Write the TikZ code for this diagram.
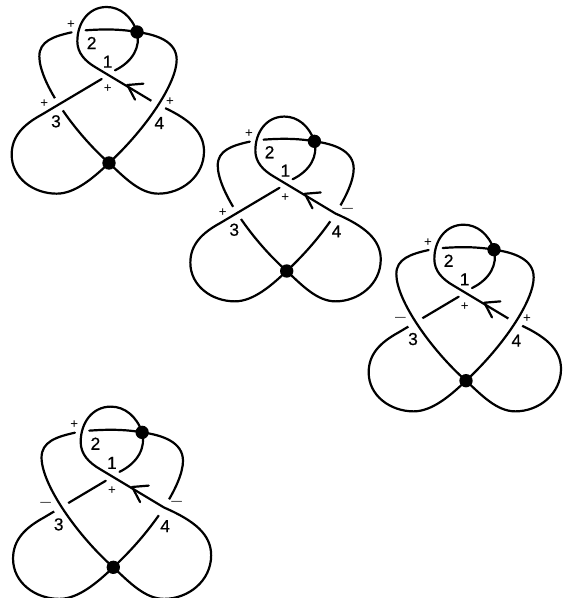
\documentclass[tikz,border=0pt]{standalone}
\usepackage{fontspec}
\setmainfont{Liberation Sans}
\newfontfamily\digitfont[FakeBold=0.5]{Liberation Sans}
\tikzset{
  strand/.style={draw=black,line width=1.65pt,line cap=round,line join=round},
  gapstrip/.style={draw=white,line cap=butt},
  vertexdot/.style={circle,fill=black,inner sep=0pt,minimum size=10pt},
  digit/.style={font=\digitfont\fontsize{13}{13}\selectfont,text=black,inner sep=0pt},
  sign/.style={font=\fontsize{10}{10}\selectfont,text=black,inner sep=0pt},
  dashsign/.style={font=\fontsize{8}{8}\selectfont,text=black,inner sep=0pt}
}
\newcommand{\knotdiagram}[6]{%
\begin{scope}[shift={(#1*0.75pt,-#2*0.75pt)},name prefix=#6-]
\begin{scope}[x=#3*0.25pt,y=-#3*0.25pt,shift={(-327,-490)}]
  \node[vertexdot] (V) at (327,490) {};
  \node[vertexdot] (T) at (411,97) {};
  % circle back from top vertex to crossing 1
  \draw[strand] (T.center) .. controls (422,140) and (400,185) .. (345,212);
  % horizontal from top vertex to crossing 2
  \draw[strand] (T.center) .. controls (360,88) and (310,88) .. (257,92);
  % strands through crossing 4
  \def\strandB{\draw[strand] (T.center) .. controls (395,50) and (360,22) .. (320,22)
     .. controls (265,22) and (232,70) .. (232,125)
     .. controls (232,160) and (255,185) .. (290,205) -- (475,316)
     .. controls (565,355) and (612,395) .. (612,455)
     .. controls (612,530) and (545,582) .. (475,582)
     .. controls (420,582) and (375,535) .. (V.center);}
  \def\strandC{\draw[strand] (T.center) .. controls (470,105) and (530,125) .. (530,180)
     .. controls (530,250) and (440,385) .. (V.center);}
  \ifnum#5=1
    \strandB
    \draw[gapstrip,line width=11.5pt] (490,288) -- (460,340);
    \strandC
  \else
    \strandC
    \draw[gapstrip,line width=14pt] (445,297) -- (505,334);
    \strandB
  \fi
  % strands through crossing 3
  \def\strandA{\draw[strand] (305,238) -- (125,345)
     .. controls (70,375) and (35,410) .. (35,465)
     .. controls (35,535) and (100,582) .. (170,582)
     .. controls (225,582) and (280,535) .. (V.center);}
  \def\strandD{\draw[strand] (215,98) .. controls (160,110) and (118,125) .. (118,170)
     .. controls (118,250) and (225,400) .. (V.center);}
  \ifnum#4=1
    \strandD
    \draw[gapstrip,line width=10.7pt] (160,324) -- (195,303);
    \strandA
  \else
    \strandA
    \draw[gapstrip,line width=12pt] (158,291) -- (192,339);
    \strandD
  \fi
  % arrowhead on the loop
  \coordinate (tip) at (382,256);
  \coordinate (barbA) at (430,252);
  \coordinate (barbB) at (405,300);
  \draw[strand] (barbA) -- (tip) -- (barbB);
  % labels
  \node[digit] (n1) at (323,186) {1};
  \node[digit] (n2) at (275,130) {2};
  \node[digit] (n3) at (168,365) {3};
  \node[digit] (n4) at (478,370) {4};
  \node[sign] (s2) at (213,75) {+};
  \node[sign] (s1) at (323,267) {+};
  \ifnum#4=1
    \node[sign] (s3) at (133,312) {+};
  \else
    \node[dashsign] (s3) at (130,305) {—};
  \fi
  \ifnum#5=1
    \node[sign] (s4) at (510,305) {+};
  \else
    \node[dashsign] (s4) at (512,304) {—};
  \fi
\end{scope}
\end{scope}}
\begin{document}
\begin{tikzpicture}[x=0.75pt,y=0.75pt]
  \clip (0,0) rectangle (565,-598);
  \fill[white] (0,0) rectangle (565,-598);
  \knotdiagram{109}{163}{1}{1}{1}{a}
  \knotdiagram{286.7}{271}{0.99}{1}{0}{b}
  \knotdiagram{466}{380.7}{1}{0}{1}{c}
  \knotdiagram{113.3}{567.3}{1.03}{0}{0}{d}
\end{tikzpicture}
\end{document}
